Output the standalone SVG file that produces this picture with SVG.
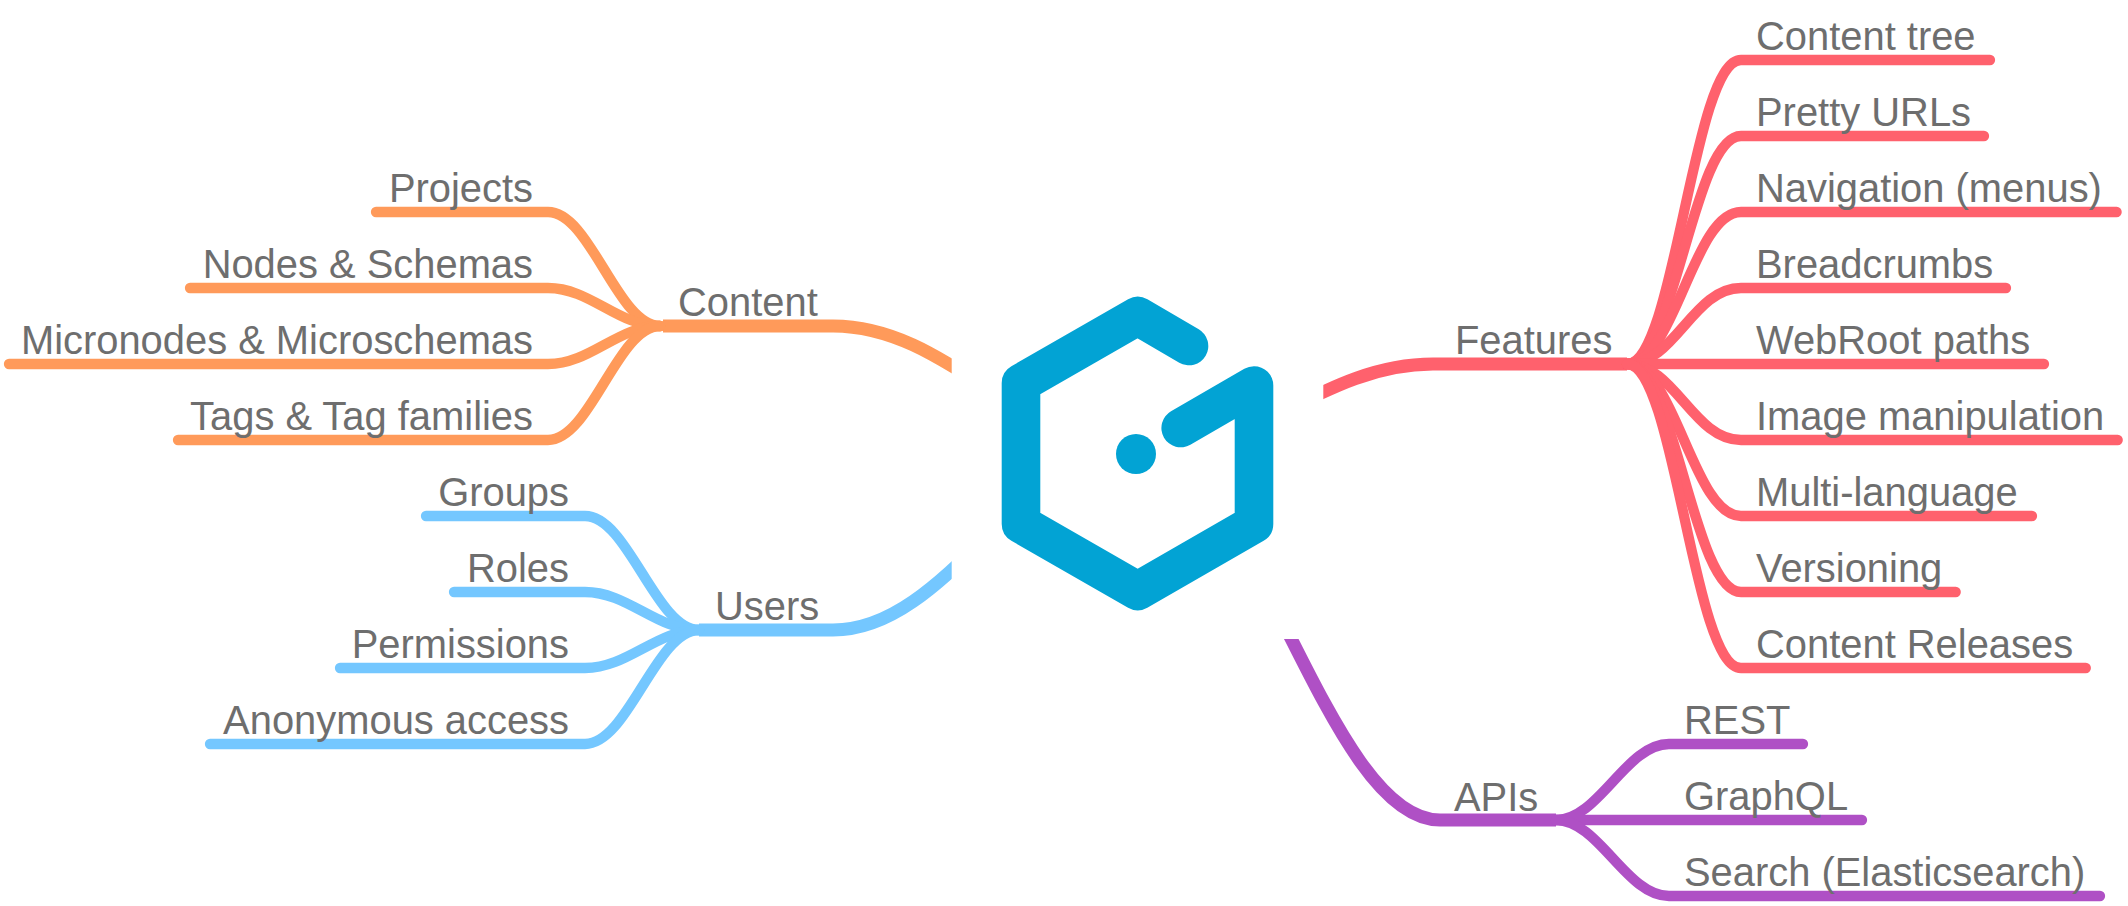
<svg xmlns="http://www.w3.org/2000/svg" width="2128" height="906" viewBox="0 0 2128 906">
<style>
text{font-family:"Liberation Sans",Arial,Helvetica,sans-serif;font-size:39.9px;fill:#6e6e6e}
.e{text-anchor:end}
path{fill:none;stroke-linecap:round}
.m{stroke-width:13;stroke-linecap:butt}
.c{stroke-width:10.3}
.o{stroke:#ff9a5a}.u{stroke:#74c7ff}.f{stroke:#ff616d}.a{stroke:#af50c5}
</style>
<defs>
<clipPath id="cl"><rect x="0" y="0" width="951.7" height="906"/></clipPath>
<clipPath id="cr"><rect x="1323.3" y="0" width="805" height="906"/></clipPath>
<clipPath id="cb"><rect x="1137" y="639" width="991" height="267"/></clipPath>
</defs>
<rect width="2128" height="906" fill="#fff"/>
<g id="connectors">
<path class="m o" clip-path="url(#cl)" d="M663,326H833C948.5,326 1021.5,447 1137,447"/>
<path class="m u" clip-path="url(#cl)" d="M699,630H833C949,630 1021,447 1137,447"/>
<path class="m f" clip-path="url(#cr)" d="M1627,364H1433C1321,364 1249,457 1137,457"/>
<path class="m a" clip-path="url(#cb)" d="M1556,820H1440C1325,820 1252,447 1137,447"/>
<g>
<path class="c o" d="M376,212H548C590.5,212 617.5,326 660,326"/>
<path class="c o" d="M190,288H548C590.5,288 617.5,326 660,326"/>
<path class="c o" d="M9,364H548C590.5,364 617.5,326 660,326"/>
<path class="c o" d="M178,440H548C590.5,440 617.5,326 660,326"/>
</g>
<g>
<path class="c u" d="M426,516H585C628,516 656,630 699,630"/>
<path class="c u" d="M454,592H585C628,592 656,630 699,630"/>
<path class="c u" d="M340,668H585C628,668 656,630 699,630"/>
<path class="c u" d="M210,744H585C628,744 656,630 699,630"/>
</g>
<g>
<path class="c f" d="M1990,60H1741C1693,60 1675,364 1627,364"/>
<path class="c f" d="M1984,136H1741C1693,136 1675,364 1627,364"/>
<path class="c f" d="M2116.6,212H1741C1693,212 1675,364 1627,364"/>
<path class="c f" d="M2006,288H1741C1693,288 1675,364 1627,364"/>
<path class="c f" d="M2044,364H1627"/>
<path class="c f" d="M2117.7,440H1741C1693,440 1675,364 1627,364"/>
<path class="c f" d="M2032,516H1741C1693,516 1675,364 1627,364"/>
<path class="c f" d="M1955.7,592H1741C1693,592 1675,364 1627,364"/>
<path class="c f" d="M2085.8,668H1741C1693,668 1675,364 1627,364"/>
</g>
<g>
<path class="c a" d="M1803,744H1669C1626,744 1599,820 1556,820"/>
<path class="c a" d="M1862,820H1556"/>
<path class="c a" d="M2100,896H1669C1626,896 1599,820 1556,820"/>
</g>
</g>
<g id="root">
<path d="M1189,346L1137.7,316L1021,383V524L1137.7,591L1254,524V385.5L1180.7,428" style="fill:none;stroke:#02a3d4;stroke-width:38.6;stroke-linejoin:round;stroke-linecap:round"/>
<circle cx="1136" cy="454" r="20" fill="#02a3d4"/>
</g>
<g id="n-content"><text x="678" y="316">Content</text></g>
<g id="n-projects"><text class="e" x="533" y="202">Projects</text></g>
<g id="n-nodes"><text class="e" x="533" y="278">Nodes &amp; Schemas</text></g>
<g id="n-micronodes"><text class="e" x="533" y="354">Micronodes &amp; Microschemas</text></g>
<g id="n-tags"><text class="e" x="533" y="430">Tags &amp; Tag families</text></g>
<g id="n-users"><text x="715" y="620">Users</text></g>
<g id="n-groups"><text class="e" x="569" y="506">Groups</text></g>
<g id="n-roles"><text class="e" x="569" y="582">Roles</text></g>
<g id="n-permissions"><text class="e" x="569" y="658">Permissions</text></g>
<g id="n-anonymous"><text class="e" x="569" y="734">Anonymous access</text></g>
<g id="n-features"><text x="1455" y="354">Features</text></g>
<g id="n-tree"><text x="1756" y="50">Content tree</text></g>
<g id="n-urls"><text x="1756" y="126">Pretty URLs</text></g>
<g id="n-nav"><text x="1756" y="202">Navigation (menus)</text></g>
<g id="n-crumbs"><text x="1756" y="278">Breadcrumbs</text></g>
<g id="n-webroot"><text x="1756" y="354">WebRoot paths</text></g>
<g id="n-image"><text x="1756" y="430">Image manipulation</text></g>
<g id="n-lang"><text x="1756" y="506">Multi-language</text></g>
<g id="n-version"><text x="1756" y="582">Versioning</text></g>
<g id="n-releases"><text x="1756" y="658">Content Releases</text></g>
<g id="n-apis"><text x="1454" y="811">APIs</text></g>
<g id="n-rest"><text x="1684" y="734">REST</text></g>
<g id="n-graphql"><text x="1684" y="810">GraphQL</text></g>
<g id="n-search"><text x="1684" y="886">Search (Elasticsearch)</text></g>
</svg>
